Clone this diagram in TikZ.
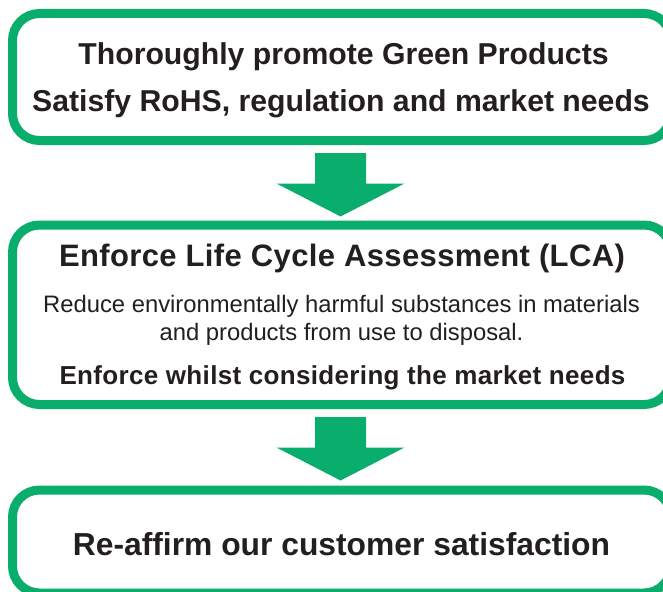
\documentclass[tikz,border=0pt]{standalone}
\usepackage{fontspec}
\setmainfont{Liberation Sans}[Ligatures=NoCommon]
\usetikzlibrary{calc}
\definecolor{grn}{HTML}{0AAE6C}
\definecolor{ink}{HTML}{231F20}
\tikzset{
  box/.style={draw=grn, line width=9pt, rounded corners=27pt, inner sep=0pt},
  txt/.style={anchor=base, text=ink, inner sep=0pt},
  blockarrow/.style={fill=grn, draw=none}
}
\begin{document}
\begin{tikzpicture}[x=1pt, y=-1pt]
\clip (0,0) rectangle (663,591);
\fill[white] (0,0) rectangle (663,591);
% boxes
\node[box, minimum width=658.5pt, minimum height=127pt] (b1) at (341.75,77) {};
\node[box, minimum width=658.5pt, minimum height=179.5pt] (b2) at (341.75,314.75) {};
\node[box, minimum width=658.5pt, minimum height=103pt] (b3) at (341.75,541.5) {};
% texts
\node[txt, font=\bfseries\fontsize{30.2}{36}\selectfont] (t1) at (343.5,65) {Thoroughly promote Green Products};
\node[txt, font=\bfseries\fontsize{30.2}{36}\selectfont] (t2) at (341,112) {Satisfy RoHS, regulation and market needs};
\node[txt, font=\bfseries\fontsize{31}{36}\selectfont\addfontfeature{LetterSpace=1.2}] (t3) at (342,266) {Enforce Life Cycle Assessment (LCA)};
\node[txt, font=\fontsize{23.8}{28}\selectfont] (t4) at (341.5,312) {Reduce environmentally harmful substances in materials};
\node[txt, font=\fontsize{23.8}{28}\selectfont] (t5) at (341.5,340) {and products from use to disposal.};
\node[txt, font=\bfseries\fontsize{26}{30}\selectfont\addfontfeature{LetterSpace=1.3}] (t6) at (342.5,384) {Enforce whilst considering the market needs};
\node[txt, font=\bfseries\fontsize{31.8}{36}\selectfont] (t7) at (341.5,555) {Re-affirm our customer satisfaction};
% block arrows
\coordinate (a1) at (340.5,153);
\coordinate (a2) at (340.5,417);
\foreach \a in {a1,a2}{
  \fill[blockarrow] ($(\a)+(-25.5,0)$) -- ($(\a)+(25.5,0)$) -- ($(\a)+(25.5,30.5)$) -- ($(\a)+(64,30.5)$)
    -- ($(\a)+(0,63.5)$) -- ($(\a)+(-64,30.5)$) -- ($(\a)+(-25.5,30.5)$) -- cycle;
}
\end{tikzpicture}
\end{document}
